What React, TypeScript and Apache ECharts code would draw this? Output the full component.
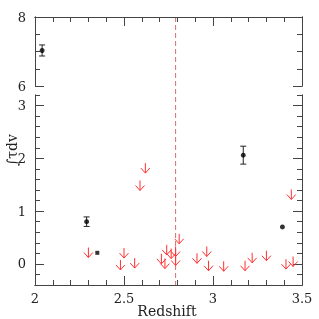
import React, { useEffect, useRef } from "react";
import * as echarts from "echarts";

// ---- data ----
const topPointsX = [2.04];
const topPointsY = [7.03];
const topPointsErr = [0.16];

const detX = [2.29, 3.17, 3.39];
const detY = [0.8, 2.06, 0.7];
const detErr = [0.09, 0.17, 0.0];

const squareX = [2.35];
const squareY = [0.21];

const limitX = [2.3, 2.48, 2.5, 2.56, 2.59, 2.62, 2.71, 2.73, 2.74, 2.765, 2.79, 2.79, 2.81, 2.91, 2.965, 2.975, 3.06, 3.18, 3.22, 3.3, 3.41, 3.44, 3.45];
const limitY = [0.31, 0.075, 0.3, 0.11, 1.58, 1.91, 0.19, 0.1, 0.36, 0.29, 0.33, 0.16, 0.57, 0.2, 0.33, 0.06, 0.05, 0.06, 0.21, 0.25, 0.09, 1.41, 0.14];

const dividerX = 2.79;

// ---- ticks ----
const xMajorTicks = [2, 2.5, 3, 3.5];
const xMinorTicks = [2.1, 2.2, 2.3, 2.4, 2.6, 2.7, 2.8, 2.9, 3.1, 3.2, 3.3, 3.4];
const topYMajor = [6, 8];
const topYMinor = [6.5, 7, 7.5];
const botYMajor = [0, 1, 2, 3];
const botYMinor = [-0.2, 0.2, 0.4, 0.6, 0.8, 1.2, 1.4, 1.6, 1.8, 2.2, 2.4, 2.6, 2.8, 3.2];

const xTitle = "Redshift";
const yTitle = "∫τdv";

const FONT = "DejaVu Serif";
const AX = "#444";
const RED = "#ff3030";

export default function App() {
  const ref = useRef<HTMLDivElement>(null);
  useEffect(() => {
    if (!ref.current) return;
    const chart = echarts.init(ref.current, null, { renderer: "svg" });

    const xAx = (grid: number, pos: string, ticks: number[], len: number, labels: boolean) => ({
      type: "value",
      gridIndex: grid,
      position: pos,
      min: 2,
      max: 3.5,
      axisLine: { show: true, onZero: false, lineStyle: { color: AX, width: 1 } },
      axisTick: { show: true, inside: true, length: len, customValues: ticks, lineStyle: { color: AX } },
      axisLabel: labels
        ? { show: true, customValues: ticks, margin: 7, fontFamily: FONT, fontSize: 13, color: "#222", formatter: (v: number) => String(v) }
        : { show: false },
      splitLine: { show: false },
    });
    const yAx = (grid: number, pos: string, min: number, max: number, ticks: number[], len: number, labels: boolean) => ({
      type: "value",
      gridIndex: grid,
      position: pos,
      min,
      max,
      axisLine: { show: true, onZero: false, lineStyle: { color: AX, width: 1 } },
      axisTick: { show: true, inside: true, length: len, customValues: ticks, lineStyle: { color: AX } },
      axisLabel: labels
        ? { show: true, customValues: ticks, margin: 9, fontFamily: FONT, fontSize: 13, color: "#222", formatter: (v: number) => String(v) }
        : { show: false },
      splitLine: { show: false },
    });

    const errItem = (params: any, api: any) => {
      const x = api.value(0), y = api.value(1), e = api.value(2);
      const hi = api.coord([x, y + e]);
      const lo = api.coord([x, y - e]);
      const st = { stroke: "#222", lineWidth: 1 };
      if (e <= 0) return { type: "group", children: [] };
      return {
        type: "group",
        children: [
          { type: "line", shape: { x1: hi[0], y1: hi[1], x2: lo[0], y2: lo[1] }, style: st },
          { type: "line", shape: { x1: hi[0] - 3, y1: hi[1], x2: hi[0] + 3, y2: hi[1] }, style: st },
          { type: "line", shape: { x1: lo[0] - 3, y1: lo[1], x2: lo[0] + 3, y2: lo[1] }, style: st },
        ],
      };
    };
    const arrowItem = (params: any, api: any) => {
      const p = api.coord([api.value(0), api.value(1)]);
      const L = 10;
      const st = { stroke: RED, lineWidth: 1, fill: "none" };
      return {
        type: "group",
        children: [
          { type: "line", shape: { x1: p[0], y1: p[1], x2: p[0], y2: p[1] + L }, style: st },
          { type: "polyline", shape: { points: [[p[0] - 4.5, p[1] + L - 5], [p[0], p[1] + L], [p[0] + 4.5, p[1] + L - 5]] }, style: st },
        ],
      };
    };

    const titles = [
      {
        type: "text",
        x: 12,
        y: 150,
        rotation: Math.PI / 2,
        style: { text: yTitle, fontFamily: FONT, fontSize: 14, fill: "#222", align: "center", verticalAlign: "middle" },
      },
      {
        type: "text",
        x: 167,
        y: 311,
        style: { text: xTitle, fontFamily: FONT, fontSize: 14, fill: "#222", align: "center", verticalAlign: "middle" },
      },
    ];

    chart.setOption({
      animation: false,
      grid: [
        { left: 35, right: 17, top: 17, height: 69, outerBoundsMode: "none", containLabel: false },
        { left: 35, right: 17, top: 95, height: 190, outerBoundsMode: "none", containLabel: false },
      ],
      xAxis: [
        xAx(0, "top", xMinorTicks, 5, false),
        xAx(0, "top", xMajorTicks, 9, false),
        xAx(1, "bottom", xMinorTicks, 5, false),
        xAx(1, "bottom", xMajorTicks, 9, true),
      ],
      yAxis: [
        yAx(0, "left", 6, 8, topYMajor, 9, true),
        yAx(0, "left", 6, 8, topYMinor, 5, false),
        yAx(0, "right", 6, 8, topYMajor, 9, false),
        yAx(0, "right", 6, 8, topYMinor, 5, false),
        yAx(1, "left", -0.4, 3.2, botYMajor, 9, true),
        yAx(1, "left", -0.4, 3.2, botYMinor, 5, false),
        yAx(1, "right", -0.4, 3.2, botYMajor, 9, false),
        yAx(1, "right", -0.4, 3.2, botYMinor, 5, false),
      ],
      series: [
        {
          type: "custom",
          xAxisIndex: 0,
          yAxisIndex: 0,
          renderItem: errItem,
          data: topPointsX.map((x, i) => [x, topPointsY[i], topPointsErr[i]]),
        },
        {
          type: "scatter",
          xAxisIndex: 0,
          yAxisIndex: 0,
          symbol: "circle",
          symbolSize: 5,
          itemStyle: { color: "#000" },
          data: topPointsX.map((x, i) => [x, topPointsY[i]]),
        },
        {
          type: "custom",
          xAxisIndex: 2,
          yAxisIndex: 4,
          renderItem: errItem,
          data: detX.map((x, i) => [x, detY[i], detErr[i]]),
        },
        {
          type: "scatter",
          xAxisIndex: 2,
          yAxisIndex: 4,
          symbol: "circle",
          symbolSize: 5,
          itemStyle: { color: "#000" },
          data: detX.map((x, i) => [x, detY[i]]),
        },
        {
          type: "scatter",
          xAxisIndex: 2,
          yAxisIndex: 4,
          symbol: "rect",
          symbolSize: 4,
          itemStyle: { color: "#000" },
          data: squareX.map((x, i) => [x, squareY[i]]),
        },
        {
          type: "custom",
          xAxisIndex: 2,
          yAxisIndex: 4,
          renderItem: arrowItem,
          data: limitX.map((x, i) => [x, limitY[i]]),
        },
      ],
      graphic: titles,
    });

    const xp = chart.convertToPixel({ xAxisIndex: 0 }, dividerX) as number;
    const yTop = chart.convertToPixel({ yAxisIndex: 0 }, 8) as number;
    const yBot = chart.convertToPixel({ yAxisIndex: 4 }, -0.4) as number;
    chart.setOption({
      graphic: [
        ...titles,
        {
          type: "line",
          shape: { x1: xp, y1: yTop, x2: xp, y2: yBot },
          style: { stroke: "#d66a6a", lineWidth: 1, lineDash: [5, 3] },
          z: -1,
        },
      ],
    });

    return () => chart.dispose();
  }, []);
  return <div ref={ref} style={{ position: "fixed", left: 0, top: 0, width: 319, height: 319 }} />;
}
